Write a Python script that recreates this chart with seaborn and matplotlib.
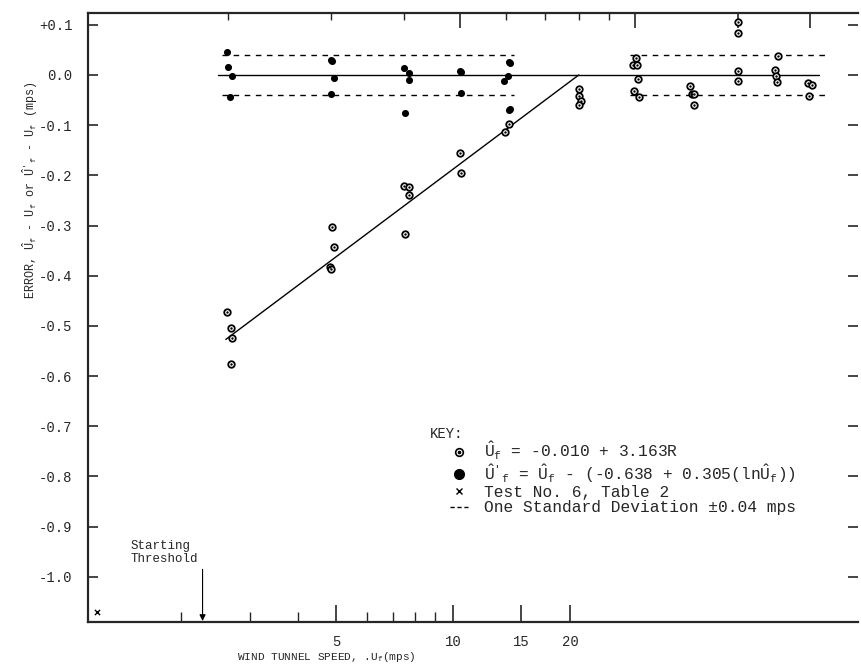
import matplotlib
matplotlib.use("Agg")
import matplotlib.pyplot as plt
from matplotlib.lines import Line2D
from matplotlib.ticker import FixedLocator, NullFormatter, FuncFormatter
import seaborn as sns

# --- data ---
# U_f hat (open circles with centre dot)
open_x = [1.99, 2.02, 2.03, 2.02,
          3.02, 3.04, 2.99, 3.0,
          4.0, 4.08, 4.08, 4.02,
          5.0, 5.02,
          6.08, 5.98,
          8.0, 8.02, 8.06, 8.02,
          10.03, 9.92, 10.08, 10.1, 9.97, 10.15,
          12.4, 12.5, 12.6, 12.6,
          15.0, 15.0, 15.0, 15.05,
          17.6, 17.4, 17.45, 17.5,
          19.8, 20.1, 19.9]
open_err = [-0.472, -0.504, -0.524, -0.576,
            -0.303, -0.343, -0.382, -0.386,
            -0.221, -0.223, -0.239, -0.317,
            -0.155, -0.195,
            -0.098, -0.114,
            -0.028, -0.041, -0.052, -0.060,
            0.034, 0.020, 0.020, -0.008, -0.032, -0.044,
            -0.022, -0.038, -0.038, -0.060,
            0.106, 0.084, 0.008, -0.012,
            0.038, 0.010, -0.002, -0.014,
            -0.016, -0.020, -0.042]

# corrected U_f' hat (filled circles)
fill_x = [1.99, 2.0, 2.03, 2.01,
          3.0, 3.02, 3.04, 3.0,
          4.0, 4.08, 4.08, 4.02,
          5.0, 5.02, 5.03,
          6.08, 6.1, 6.04, 5.96, 6.1, 6.06]
fill_err = [0.046, 0.016, -0.002, -0.043,
            0.030, 0.028, -0.006, -0.038,
            0.014, 0.004, -0.010, -0.076,
            0.008, 0.006, -0.036,
            0.026, 0.024, -0.002, -0.012, -0.068, -0.070]

# fitted correction line
fit_x = [1.98, 8.0]
fit_err = [-0.527, 0.0]

# zero line and +/- one standard deviation bands
zero_x = [1.92, 20.7]
sd = 0.04
band_x = [(1.95, 6.2), (9.8, 21.6)]

# Test No. 6, Table 2
test_x = [1.19]
test_err = [-1.07]

threshold_x = 2.27  # on the printed (bottom) speed scale

y_ticks = [round(-1.0 + 0.1 * i, 1) for i in range(12)]
bottom_major = [5, 10, 15, 20]
minor_ticks = [2, 3, 4, 6, 7, 8, 9]

sns.set_style("ticks")
plt.rcParams['font.family'] = ['Liberation Mono', 'DejaVu Sans']
plt.rcParams['mathtext.fontset'] = 'custom'
plt.rcParams['mathtext.rm'] = 'Liberation Mono'
plt.rcParams['mathtext.it'] = 'Liberation Mono'
plt.rcParams['axes.unicode_minus'] = False

fig = plt.figure(figsize=(8.61, 6.67), dpi=100)
ax = fig.add_axes([88 / 861, 1 - 622 / 667, 770 / 861, 609 / 667])
ax2 = ax.twiny()

ax.set_xscale('log')
ax.set_xlim(1.148, 24.15)
ax.set_ylim(-1.09, 0.1235)

# lines
ax.plot(zero_x, [0, 0], color='black', lw=1.0)
for x0, x1 in band_x:
    for s in (sd, -sd):
        ax.plot([x0, x1], [s, s], color='black', lw=1.0, dashes=(4, 4))
sns.lineplot(x=fit_x, y=fit_err, ax=ax, color='black', lw=1.0)

# points
sns.scatterplot(x=open_x, y=open_err, ax=ax, s=22, marker='o',
                facecolor='white', edgecolor='black', linewidth=1.3, zorder=3)
sns.scatterplot(x=open_x, y=open_err, ax=ax, s=3, marker='o',
                color='black', linewidth=0, zorder=4)
sns.scatterplot(x=fill_x, y=fill_err, ax=ax, s=26, marker='o',
                color='black', linewidth=0, zorder=3)
sns.scatterplot(x=test_x, y=test_err, ax=ax, s=14, marker='x',
                color='black', linewidth=1.0, zorder=3)

# axis styling
for side in ('top', 'left', 'bottom'):
    ax.spines[side].set_linewidth(1.6)
ax.spines['right'].set_visible(False)
for sp in ax2.spines.values():
    sp.set_visible(False)

ax.yaxis.set_major_locator(FixedLocator(y_ticks))
ax.yaxis.set_major_formatter(FuncFormatter(
    lambda v, p: ('+%.1f' % v) if v > 0.001 else ('0.0' if abs(v) < 0.001 else '%.1f' % v)))
ax.tick_params(axis='y', direction='in', length=7, width=1.2, left=True,
               right=True, labelsize=10, pad=11)

ax.xaxis.set_major_locator(FixedLocator(bottom_major))
ax.xaxis.set_minor_locator(FixedLocator(minor_ticks))
ax.xaxis.set_major_formatter(NullFormatter())
ax.xaxis.set_minor_formatter(NullFormatter())
ax.tick_params(axis='x', which='both', direction='in', top=True, bottom=False,
               labeltop=False, labelbottom=False)
ax.tick_params(axis='x', which='major', length=11, width=1.2)
ax.tick_params(axis='x', which='minor', length=5, width=1.0)

ax2.set_xscale('log')
ax2.set_xlim(1.152, 110)
ax2.xaxis.set_ticks_position('bottom')
ax2.xaxis.set_major_locator(FixedLocator(bottom_major))
ax2.xaxis.set_minor_locator(FixedLocator(minor_ticks))
ax2.xaxis.set_major_formatter(FuncFormatter(lambda v, p: '%d' % v))
ax2.xaxis.set_minor_formatter(NullFormatter())
ax2.tick_params(axis='x', which='both', direction='in', bottom=True, top=False,
                labelbottom=True, labeltop=False, labelsize=10, pad=9)
ax2.tick_params(axis='x', which='major', length=12, width=1.2)
ax2.tick_params(axis='x', which='minor', length=7, width=1.0)

# starting threshold
ax2.annotate('', xy=(threshold_x, -1.088), xytext=(threshold_x, -0.985),
             arrowprops=dict(arrowstyle='-|>', lw=0.8, color='black',
                             mutation_scale=9, shrinkA=0, shrinkB=0))
ax2.text(1.48, -0.951, 'Starting\nThreshold', ha='left', va='center',
         fontsize=9, linespacing=1.1)

# labels
fig.text(326 / 861, 1 - 657 / 667, r'WIND TUNNEL SPEED, .U$_\mathrm{f}$(mps)',
         ha='center', va='center', fontsize=8)
fig.text(30 / 861, 1 - 190 / 667,
         r"ERROR, $\hat{U}_f$ - U$_f$ or $\hat{U}'_f$ - U$_f$ (mps)",
         ha='center', va='center', rotation=90, fontsize=8.5)

# key
ax.text(0.444, 0.309, 'KEY:', transform=ax.transAxes, ha='left', va='center',
        fontsize=10)
h_open = (Line2D([], [], ls='', marker='o', ms=5.5, mfc='white', mec='black', mew=1.2),
          Line2D([], [], ls='', marker='o', ms=1.6, color='black'))
h_fill = Line2D([], [], ls='', marker='o', ms=7, color='black')
h_test = Line2D([], [], ls='', marker='x', ms=4, color='black', mew=1.0)
h_sd = Line2D([], [], color='black', lw=1.0, dashes=(3, 2))
labels = [r'$\hat{U}_f$ = -0.010 + 3.163R',
          r"$\hat{U}'_f$ = $\hat{U}_f$ - (-0.638 + 0.305(ln$\hat{U}_f$))",
          'Test No. 6, Table 2',
          'One Standard Deviation \u00b10.04 mps']
leg = ax.legend([h_open, h_fill, h_test, h_sd], labels,
                loc='upper left', bbox_to_anchor=(0.456, 0.318), frameon=False,
                fontsize=11.7, handlelength=1.1, handletextpad=0.95,
                labelspacing=0.02, borderpad=0.2)

fig.savefig('out.png', dpi=100)
